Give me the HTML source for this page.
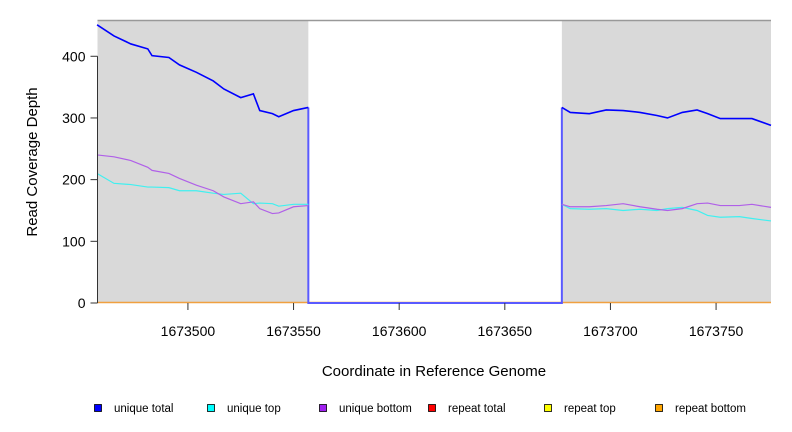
<!DOCTYPE html>
<html><head><meta charset="utf-8"><style>
body{margin:0;background:#fff;}
svg{font-family:"Liberation Sans",sans-serif;display:block;}
</style></head><body>
<svg id="chart" width="792" height="432" viewBox="0 0 792 432">
<g id="bg"></g><g id="series"></g><g id="axes"></g><g id="legend"></g>
<text x="434" y="376" font-size="15" text-anchor="middle">Coordinate in Reference Genome</text>
<text transform="translate(37,162) rotate(-90)" font-size="15" text-anchor="middle">Read Coverage Depth</text>
</svg>
<script>
const xDomain=[1673457.2,1673776];
const yDomain=[0,458];
const shadedRegions=[[1673457.2,1673557],[1673677,1673776]];
const xTicks=[1673500,1673550,1673600,1673650,1673700,1673750];
const yTicks=[0,100,200,300,400];
const leftCoords=[1673457,1673465,1673473,1673481,1673483,1673491,1673496,1673504,1673512,1673517,1673525,1673531,1673534,1673540,1673543,1673550,1673557];
const leftTotal=[451,433,420,412,401,398,386,374,360,347,333,339,312,307,302,312,317];
const leftBottom=[240,237,231,220,215,210,202,191,182,172,161,164,153,145,146,156,158];
const leftTop=[210,194,192,188,188,187,182,182,178,176,178,161,162,161,157,160,160];
const rightCoords=[1673677,1673681,1673690,1673698,1673706,1673714,1673722,1673727,1673734,1673741,1673746,1673752,1673761,1673767,1673776];
const rightTotal=[317,309,307,313,312,309,304,300,309,313,307,299,299,299,288];
const rightBottom=[160,156,156,158,161,156,152,150,153,161,162,158,158,160,155];
const rightTop=[160,153,152,153,150,152,150,153,155,150,142,139,140,137,133];
const legendLabels=["unique total","unique top","unique bottom","repeat total","repeat top","repeat bottom"];
const legendColors=["#0000ff","#00ffff","#a020f0","#ff0000","#ffff00","#ffa500"];

const L=97.5,R=771,T=20.5,B=303;
const NS="http://www.w3.org/2000/svg";
const sx=v=>L+(v-xDomain[0])/(xDomain[1]-xDomain[0])*(R-L);
const sy=v=>B-(v-yDomain[0])/(yDomain[1]-yDomain[0])*(B-T);
function mk(tag,attrs,parent){const e=document.createElementNS(NS,tag);for(const k in attrs)e.setAttribute(k,attrs[k]);parent.appendChild(e);return e;}
const bg=document.getElementById('bg'),ser=document.getElementById('series'),ax=document.getElementById('axes'),lg=document.getElementById('legend');
shadedRegions.forEach(r=>{const e=mk('rect',{x:sx(r[0]),y:T,width:sx(r[1])-sx(r[0]),height:B-T,fill:'#d9d9d9'},bg);

});
let f=mk('line',{x1:L,x2:R,y1:T,y2:T,stroke:'#999','stroke-width':1.5},bg);


function linePath(cs,vs){let d='';for(let i=0;i<cs.length;i++){d+=(i?'L':'M')+sx(cs[i])+','+sy(vs[i]);}return d;}
let z=mk('line',{x1:L,x2:R,y1:B-0.5,y2:B-0.5,stroke:'#f0a040','stroke-width':1.5},ser);


const gap=mk('path',{d:'M'+sx(leftCoords[leftCoords.length-1])+','+sy(leftTotal[leftTotal.length-1])+'V'+sy(0)+'H'+sx(rightCoords[0])+'V'+sy(rightTotal[0]),fill:'none',stroke:'#5a5aff','stroke-width':2},ser);


[[leftTop,rightTop,'#40f0f0',1.2,'unique-top-line'],[leftBottom,rightBottom,'#b060e8',1.2,'unique-bottom-line'],[leftTotal,rightTotal,'#0000ff',1.6,'unique-total-line']].forEach(s=>{
 [[leftCoords,s[0]],[rightCoords,s[1]]].forEach(p=>{const e=mk('path',{d:linePath(p[0],p[1]),fill:'none',stroke:s[2],'stroke-width':s[3]},ser);
 
 });});
let ya=mk('line',{x1:L,x2:L,y1:sy(0),y2:sy(400),stroke:'#333'},ax);


yTicks.forEach(v=>{mk('line',{x1:L-7,x2:L,y1:sy(v),y2:sy(v),stroke:'#333'},ax);
 const t=mk('text',{x:L-12,y:sy(v)+5,'font-size':14,'text-anchor':'end'},ax);t.textContent=v;
 
 });
xTicks.forEach(v=>{mk('line',{x1:sx(v),x2:sx(v),y1:B,y2:B+7,stroke:'#333'},ax);
 const t=mk('text',{x:sx(v),y:336,'font-size':14,'text-anchor':'middle'},ax);t.textContent=v;
 
 });
const lx=[94,207,319,428,544,655];
legendLabels.forEach((l,i)=>{const g=mk('g',{},lg);
 
 
 mk('rect',{x:lx[i]+0.5,y:404.5,width:7,height:7,fill:legendColors[i],stroke:'#000','stroke-width':0.8},g);
 const t=mk('text',{x:lx[i]+20,y:412,'font-size':11.5},g);t.textContent=l;});
</script>
</body></html>
